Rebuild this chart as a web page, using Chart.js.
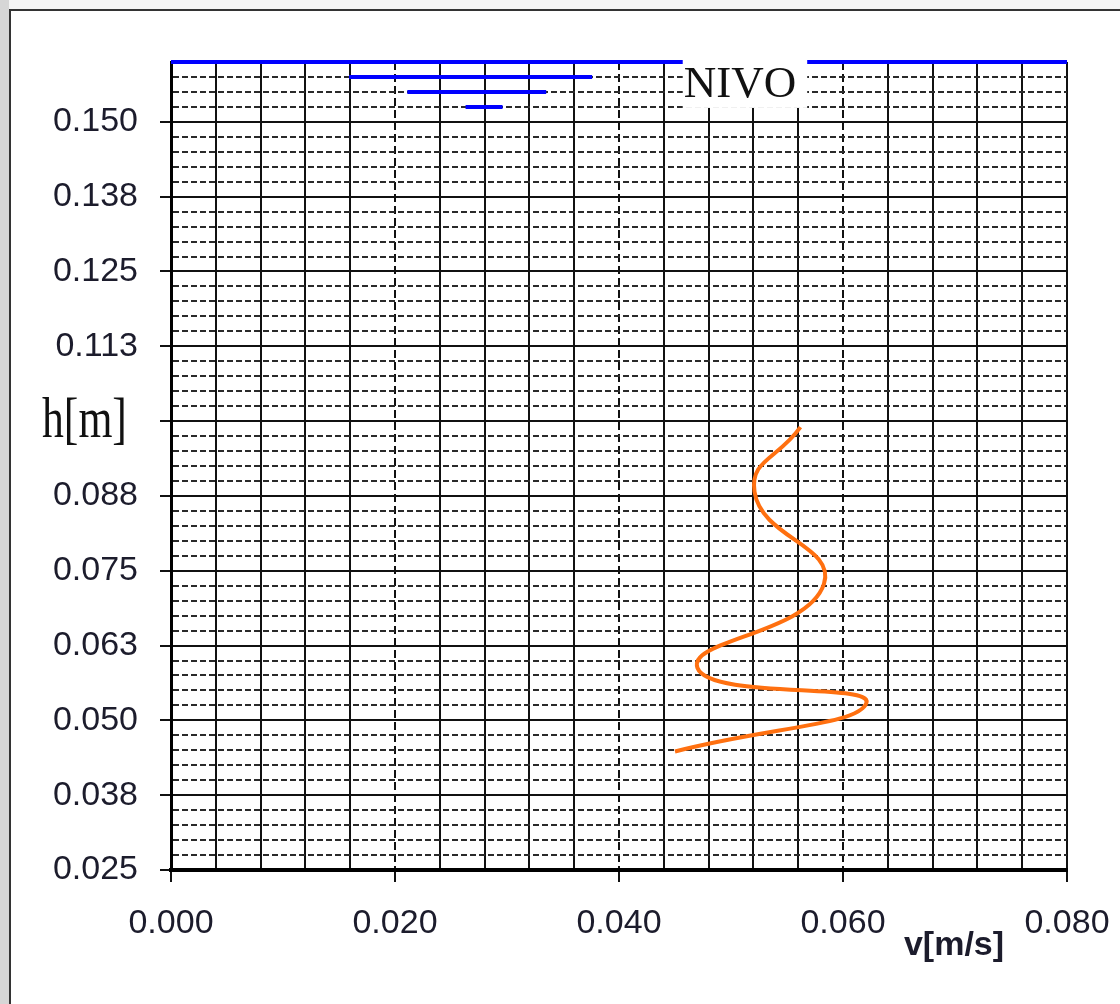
<!DOCTYPE html>
<html>
<head>
<meta charset="utf-8">
<script src="https://cdn.jsdelivr.net/npm/chart.js@4.4.1/dist/chart.umd.min.js"></script>
<style>
  html, body { margin: 0; padding: 0; }
  body { width: 1120px; height: 1004px; background: #f4f4f4; position: relative; overflow: hidden; }
  #leftStrip { position: absolute; left: 0; top: 0; width: 9px; height: 1004px; background: #d6d6d6; }
  #frame { position: absolute; left: 9px; top: 9px; right: 0; bottom: 0; background: #fff;
           border-left: 2px solid #333; border-top: 2px solid #333; }
  #wrap { position: absolute; left: 0; top: 0; width: 1120px; height: 1004px; }
</style>
</head>
<body>
<div id="leftStrip"></div>
<div id="frame"></div>
<div id="wrap"><canvas id="chart" width="1120" height="1004"></canvas></div>
<script>
// profil brzine: v[m/s] po visini h[m]
const velocity = [0.0450, 0.0621, 0.0470, 0.0583, 0.0521, 0.0562];
const height   = [0.0448, 0.0530, 0.0588, 0.0728, 0.0882, 0.0990];

// nivo vode i znak nivoa
const surfaceV = [0.000, 0.080];
const surfaceH = [0.160, 0.160];
const markStart = [0.0159, 0.0211, 0.0263];
const markEnd   = [0.0376, 0.0335, 0.0296];
const markH     = [0.1575, 0.1550, 0.1525];

const xTickLabels = ['0.000', '0.020', '0.040', '0.060', '0.080'];
const yTickLabels = ['0.025', '0.038', '0.050', '0.063', '0.075', '0.088', '', '0.113', '0.125', '0.138', '0.150'];

// mreza
let xGrid = [];
for (let i = 0; i <= 20; i++) xGrid.push(+(i * 0.004).toFixed(4));
let yGrid = [];
for (let i = 0; i <= 54; i++) yGrid.push(+(0.025 + i * 0.0025).toFixed(4));

const tickFont = { family: '"Liberation Sans", Arial, sans-serif', size: 34 };
const textColor = '#1c1c2c';

let datasets = [{
  data: velocity.map((v, i) => ({ x: v, y: height[i] })),
  showLine: true,
  borderColor: '#ff7010',
  borderWidth: 4,
  pointRadius: 0,
  tension: 0.5
}, {
  data: surfaceV.map((v, i) => ({ x: v, y: surfaceH[i] })),
  showLine: true,
  borderColor: '#0000ff',
  borderWidth: 4,
  pointRadius: 0,
  clip: false
}];
markH.forEach((h, i) => {
  datasets.push({
    data: [{ x: markStart[i], y: h }, { x: markEnd[i], y: h }],
    showLine: true,
    borderColor: '#0000ff',
    borderWidth: 4,
    pointRadius: 0,
    clip: false
  });
});

const textPlugin = {
  id: 'texts',
  afterDatasetsDraw(chart) {
    const { ctx, chartArea, scales: { x, y } } = chart;
    ctx.save();
    // NIVO
    ctx.font = '45px "Liberation Serif", "Times New Roman", serif';
    let nx = x.getPixelForValue(0.0508);
    let ny = y.getPixelForValue(0.1550);
    let w = ctx.measureText('NIVO').width;
    ctx.fillStyle = '#fff';
    ctx.fillRect(nx - w / 2 - 1, ny - 33, w + 12, 49);
    ctx.fillStyle = '#111';
    ctx.textAlign = 'center';
    ctx.textBaseline = 'alphabetic';
    ctx.fillText('NIVO', nx, ny + 5);

    // h[m]
    let hy = y.getPixelForValue(0.100);
    ctx.save();
    ctx.translate(42, hy + 16);
    ctx.scale(0.78, 1);
    ctx.font = '56px "Liberation Serif", "Times New Roman", serif';
    ctx.textAlign = 'left';
    ctx.fillText('h[m]', 0, 0);
    ctx.restore();

    // v[m/s]
    ctx.font = 'bold 34px "Liberation Sans", Arial, sans-serif';
    ctx.fillStyle = textColor;
    ctx.textAlign = 'center';
    ctx.fillText('v[m/s]', chartArea.right - 113, chartArea.bottom + 85);
    ctx.restore();
  }
};

new Chart(document.getElementById('chart'), {
  type: 'scatter',
  data: { datasets: datasets },
  options: {
    responsive: false,
    animation: false,
    layout: { padding: { top: 62, right: 53, left: 0, bottom: 0 } },
    plugins: { legend: { display: false }, tooltip: { enabled: false } },
    scales: {
      x: {
        type: 'linear',
        min: 0,
        max: 0.08,
        afterBuildTicks: s => { s.ticks = xGrid.map(v => ({ value: v })); },
        afterFit: s => { s.height = 134; s.paddingLeft = 0; s.paddingRight = 0; },
        ticks: {
          autoSkip: false,
          maxRotation: 0,
          padding: 21,
          color: textColor,
          font: tickFont,
          callback: (v, i) => (i % 5 === 0 ? xTickLabels[i / 5] : '')
        },
        grid: {
          color: '#111',
          lineWidth: 2,
          tickLength: 12,
          tickWidth: 2,
          tickColor: c => (c.index % 5 === 0 ? '#111' : 'rgba(0,0,0,0)')
        },
        border: {
          display: true,
          width: 4,
          color: '#000',
          dash: c => (c.index !== undefined && c.index % 5 === 0 && c.index !== 0 && c.index !== 20 ? [8, 4] : [])
        }
      },
      y: {
        type: 'linear',
        min: 0.025,
        max: 0.160,
        afterBuildTicks: s => { s.ticks = yGrid.map(v => ({ value: v })); },
        afterFit: s => { s.width = 171; s.paddingTop = 0; s.paddingBottom = 0; },
        ticks: {
          autoSkip: false,
          padding: 22,
          color: textColor,
          font: tickFont,
          callback: (v, i) => (i % 5 === 0 && i <= 50 ? yTickLabels[i / 5] : '')
        },
        grid: {
          color: c => (c.index % 5 === 0 ? '#111' : '#2a2a2a'),
          lineWidth: 2,
          tickLength: 11,
          tickWidth: 2,
          tickColor: c => (c.index % 5 === 0 ? '#111' : 'rgba(0,0,0,0)')
        },
        border: {
          display: true,
          width: 3,
          color: '#000',
          dash: c => (c.index !== undefined && c.index % 5 !== 0 ? [6, 3] : [])
        }
      }
    }
  },
  plugins: [textPlugin]
});
</script>
</body>
</html>
